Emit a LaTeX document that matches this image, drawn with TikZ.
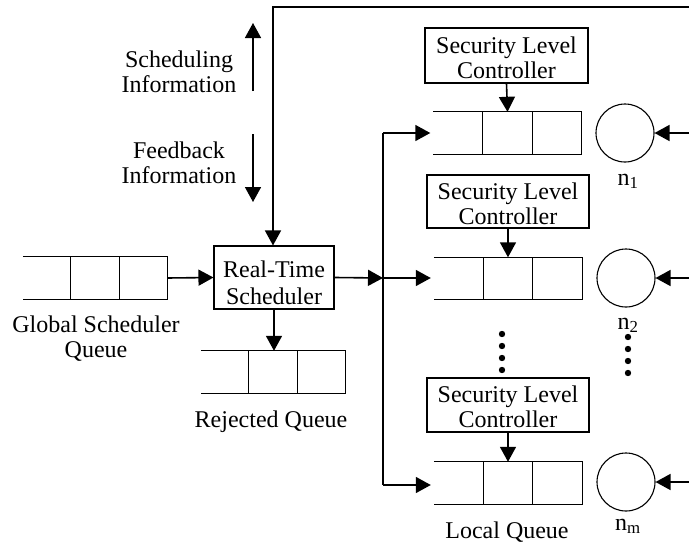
\documentclass[tikz,border=0pt]{standalone}
\usepackage{fontspec}
\setmainfont{Liberation Serif}
\usetikzlibrary{arrows.meta,calc}

\tikzset{
  txt/.style={font=\fontsize{24}{25}\selectfont, inner sep=0pt, align=center},
  blk/.style={draw, line width=1.1pt, font=\fontsize{24}{25}\selectfont,
              align=center, inner sep=0pt},
  slcbox/.style={blk, minimum width=162pt, text height=45pt, text depth=0pt},
  queue/.style={minimum width=#1, minimum height=42pt, inner sep=0pt},
  arr/.style={line width=1.6pt, -{Triangle[length=15pt,width=16pt]}},
  wire/.style={line width=1.6pt},
  server/.style={circle, draw, line width=1.1pt, minimum size=58pt, inner sep=0pt},
  qline/.style={line width=1.1pt},
}

% open-ended three-slot queue drawn on a named node
\newcommand\queuebody[1]{%
  \draw[qline] (#1.north west) -- (#1.north east) -- (#1.south east) -- (#1.south west);
  \draw[qline] ($(#1.north west)!1/3!(#1.north east)$) -- ($(#1.south west)!1/3!(#1.south east)$);
  \draw[qline] ($(#1.north west)!2/3!(#1.north east)$) -- ($(#1.south west)!2/3!(#1.south east)$);
}

\begin{document}
\begin{tikzpicture}[x=1pt, y=-1pt]
\useasboundingbox (0,0) rectangle (689,544);

% scheduler and global side
\node[blk, minimum width=120pt, minimum height=63pt, text height=53pt, text depth=0pt,
      font=\fontsize{24}{27}\selectfont] (sched) at (274,277.5) {Real-Time\\Scheduler};
\node[queue=144pt] (gq) at (95,278) {};
\queuebody{gq}
\node[queue=144pt] (rq) at (273,372) {};
\queuebody{rq}
\node[txt, anchor=base] (gqlbl) at (96,357) {Global Scheduler\\Queue};
\node[txt, anchor=base] (rqlbl) at (271,427) {Rejected Queue};

% information flow labels
\node[txt, anchor=base] (silbl) at (179,92) {Scheduling\\Information};
\node[txt, anchor=base] (fblbl) at (179,183) {Feedback\\Information};
\coordinate (siS) at (253,91);
\coordinate (siE) at (253,23);
\coordinate (fbS) at (253,134);
\coordinate (fbE) at (253,202);
\draw[arr] (siS) -- (siE);
\draw[arr] (fbS) -- (fbE);

% local queues and their security level controllers
\node[queue=148pt] (lq1) at (507.5,133) {};
\node[queue=148pt] (lq2) at (508,278.5) {};
\node[queue=148pt] (lqm) at (508,483) {};
\queuebody{lq1}
\queuebody{lq2}
\queuebody{lqm}
\node[slcbox, minimum width=163pt, minimum height=55pt] (slc1) at (506.5,55.5) {Security Level\\Controller};
\node[slcbox, minimum height=53pt] (slc2) at (508,201.5) {Security Level\\Controller};
\node[slcbox, minimum height=54pt] (slc3) at (508,405) {Security Level\\Controller};
\node[txt, anchor=base] (lqlbl) at (507,538) {Local Queue};

% processing nodes
\node[server] (srv1) at (625,133) {};
\node[server] (srv2) at (626,278) {};
\node[server] (srvm) at (626,482) {};
\node[txt, anchor=base] (n1) at (628,185) {n\textsubscript{1}};
\node[txt, anchor=base] (n2) at (628,329) {n\textsubscript{2}};
\node[txt, anchor=base] (nm) at (628,530) {n\textsubscript{m}};

% ellipsis dots
\foreach \yy in {334,346,358,370} \fill (502,\yy) circle (3.2pt);
\foreach \yy in {337,349,361,373} \fill (628,\yy) circle (3.2pt);

% connectors
\coordinate (topL) at (273,7);
\coordinate (topR) at (689,7);
\coordinate (busT) at (383,133);
\coordinate (busM) at (383,278);
\coordinate (busB) at (383,485);
\coordinate (in1) at (689,133);
\coordinate (in2) at (689,278);
\coordinate (inm) at (689,482);

\draw[arr] (topR) -- (topL) -- (sched.north -| topL);
\draw[arr] (gq.east) -- (sched.west);
\draw[arr] (sched.south) -- (rq.north -| sched.south);
\draw[arr] (sched.east) -- (busM);
\draw[wire] (busT) -- (busB);
\draw[arr, shorten >=3pt] (busT) -- (lq1.west);
\draw[arr, shorten >=3pt] (busM) -- (busM -| lq2.west);
\draw[arr, shorten >=3pt] (busB) -- (busB -| lqm.west);
\draw[arr] (slc1.south) -- (lq1.north);
\draw[arr] (slc2.south) -- (lq2.north);
\draw[arr] (slc3.south) -- (lqm.north);
\draw[arr] (in1) -- (srv1.east);
\draw[arr] (in2) -- (srv2.east);
\draw[arr] (inm) -- (srvm.east);
\end{tikzpicture}
\end{document}
